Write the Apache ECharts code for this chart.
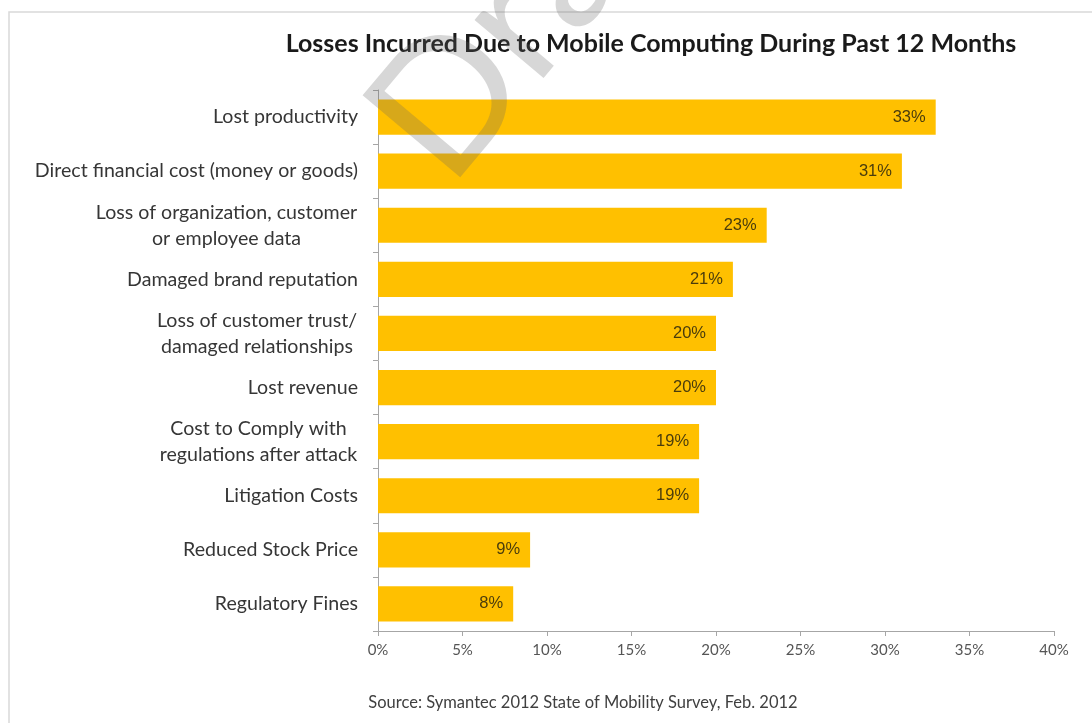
<!DOCTYPE html>
<html>
<head>
<meta charset="utf-8">
<script src="https://cdn.jsdelivr.net/npm/echarts@6/dist/echarts.min.js"></script>
<style>html,body{margin:0;padding:0;background:#fff}#c{width:1092px;height:723px}</style>
</head>
<body>
<div id="c"></div>
<script>
const title = 'Losses Incurred Due to Mobile Computing During Past 12 Months';
const source = 'Source: Symantec 2012 State of Mobility Survey, Feb. 2012';
const categories = [
  'Lost productivity',
  'Direct financial cost (money or goods)',
  'Loss of organization, customer\nor employee data',
  'Damaged brand reputation',
  'Loss of customer trust/\ndamaged relationships',
  'Lost revenue',
  'Cost to Comply with\nregulations after attack',
  'Litigation Costs',
  'Reduced Stock Price',
  'Regulatory Fines'
];
const values = [33, 31, 23, 21, 20, 20, 19, 19, 9, 8];
const axisMin = 0, axisMax = 40, axisStep = 5;

const FONT = 'Lato, "Open Sans", sans-serif';
const labelSize = 19.6;
const labelColor = '#363636';
const cv = document.createElement('canvas').getContext('2d');
cv.font = labelSize + 'px Lato';
const rich = {};
categories.forEach((c, i) => {
  const lines = c.split('\n');
  const w = Math.max(...lines.map(l => cv.measureText(l).width));
  rich['c' + i] = { width: Math.ceil(w) + 1, align: 'center', fontSize: labelSize, fontFamily: FONT, color: labelColor, lineHeight: 26 };
});

const chart = echarts.init(document.getElementById('c'));
chart.setOption({
  backgroundColor: '#fff',
  animation: false,
  title: {
    text: title, left: 646, top: 26, textAlign: 'center',
    textStyle: { fontFamily: FONT, fontWeight: 'bold', fontSize: 25, color: '#1a1a1a' }
  },
  grid: { left: 378, right: 38, top: 90, bottom: 92 },
  xAxis: {
    type: 'value', min: axisMin, max: axisMax, interval: axisStep,
    axisLine: { show: true, lineStyle: { color: '#a6a6a6' } },
    axisTick: { show: true, length: 5, lineStyle: { color: '#a6a6a6' } },
    splitLine: { show: false },
    axisLabel: { formatter: v => v + '%', fontFamily: FONT, fontSize: 15, color: '#555', margin: 12 }
  },
  yAxis: {
    type: 'category', data: categories, inverse: true,
    axisLine: { show: true, lineStyle: { color: '#a6a6a6' } },
    axisTick: { show: true, length: 5, lineStyle: { color: '#a6a6a6' } },
    axisLabel: {
      margin: 20, fontFamily: FONT, fontSize: labelSize, color: labelColor, lineHeight: 26,
      formatter: (v) => {
        const i = categories.indexOf(v);
        if (v.indexOf('\n') < 0) return v;
        return v.split('\n').map(l => '{c' + i + '|' + l + '}').join('\n');
      },
      rich: rich
    }
  },
  series: [{
    type: 'bar', data: values, barCategoryGap: '35%',
    itemStyle: { color: '#FFC000' },
    label: {
      show: true, position: 'insideRight', distance: 10, formatter: '{c}%',
      fontFamily: '"Liberation Sans Narrow", "Liberation Sans", Arial, sans-serif', fontSize: 16.5, color: '#4a3c0c'
    }
  }],
  graphic: [
    { type: 'rect', shape: { x: 9, y: 12, width: 1100, height: 730 }, style: { fill: 'none', stroke: '#d9d9d9', lineWidth: 1.5 }, z: 0 },
    { type: 'text', x: 583, y: 703, style: { text: source, fontFamily: FONT, fontSize: 16.5, fill: '#404040', textAlign: 'center', textVerticalAlign: 'middle' } },
    { type: 'text', x: 474, y: 210, rotation: 50 * Math.PI / 180, z: 100,
      style: { text: 'Draft', fontFamily: 'Lato', fontSize: 178, fill: 'rgba(100,100,100,0.26)', textAlign: 'left', textVerticalAlign: 'bottom' } }
  ]
});
</script>
</body>
</html>
